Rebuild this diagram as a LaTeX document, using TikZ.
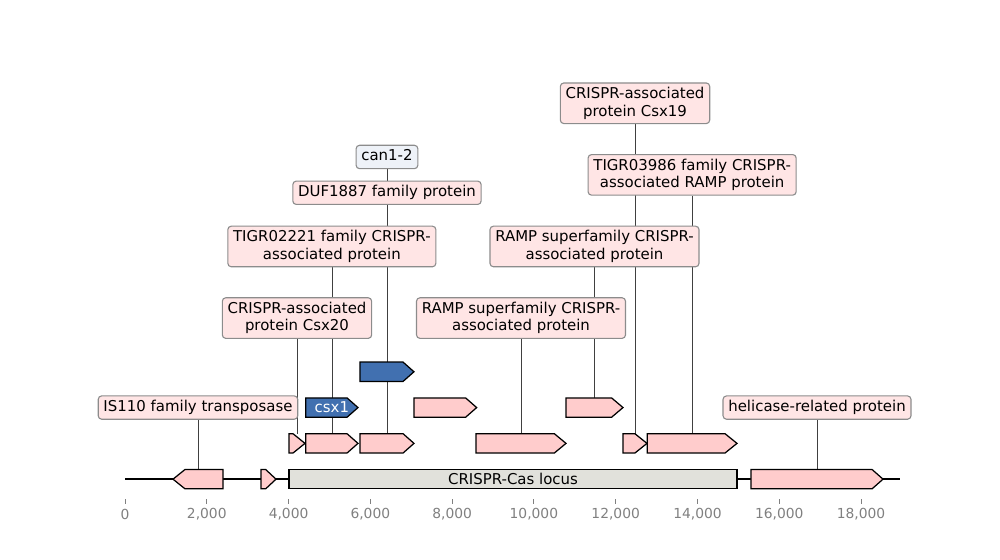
\documentclass[tikz,border=0pt]{standalone}
\usepackage{fontspec}
\setmainfont{DejaVu Sans}
\usetikzlibrary{backgrounds}

\definecolor{genepink}{HTML}{FFCCCC}
\definecolor{tagpink}{HTML}{FFE5E5}
\definecolor{geneblue}{HTML}{4170B0}
\definecolor{tagblue}{HTML}{EEF2F8}
\definecolor{locusgrey}{HTML}{E1E1DB}

\tikzset{
    gene/.style = {line width = 0.9pt, draw = black, fill = genepink},
    bluegene/.style = {gene, fill = geneblue},
    locus/.style = {gene, fill = locusgrey},
    tag/.style = {draw = black!45, line width = 0.8pt, fill = tagpink, rounded corners = 2.5pt,
        inner xsep = 3.8pt, inner ysep = 3.2pt, align = center, font = \fontsize{10.8}{12.5}\selectfont},
    bluetag/.style = {tag, fill = tagblue},
    leader/.style = {draw = black!75, line width = 0.5pt},
    ticklabel/.style = {text = black!50, font = \fontsize{10}{12}\selectfont}
}

\begin{document}
\begin{tikzpicture}[x = 1.0386cm, y = 0.9093cm]
    \useasboundingbox (-3.057, -2.257) rectangle (+21.399, +13.385);

    % Sequence axis
    \draw[line width = 1.2pt] (+0.000, +0.000) coordinate (seqstart) -- (+18.950, +0.000) coordinate (seqend);

    % Ticks and their labels
    \foreach \pos/\txt in {0/0, 2/{2,000}, 4/{4,000}, 6/{6,000}, 8/{8,000}, 10/{10,000}, 12/{12,000}, 14/{14,000}, 16/{16,000}, 18/{18,000}} {
        \draw[black!50, line width = 0.6pt] (\pos, -0.560) -- (\pos, -0.690);
        \node[ticklabel] (tick\pos) at (\pos, -0.972) {\txt};
    }

    % === Labels, from bottom to top ===
    \node[tag] (tnp) at (+1.785, +2.000) {IS110 family transposase};
    \node[tag] (helicase) at (+16.924, +2.000) {helicase-related protein};
    \node[tag] (csxtwenty) at (+4.206, +4.500) {CRISPR-associated\\protein Csx20};
    \node[tag] (ramplow) at (+9.685, +4.500) {RAMP superfamily CRISPR-\\associated protein};
    \node[tag] (tigrshort) at (+5.059, +6.500) {TIGR02221 family CRISPR-\\associated protein};
    \node[tag] (rampup) at (+11.482, +6.500) {RAMP superfamily CRISPR-\\associated protein};
    \node[tag] (duf) at (+6.407, +8.000) {DUF1887 family protein};
    \node[tag] (tigrlong) at (+13.870, +8.500) {TIGR03986 family CRISPR-\\associated RAMP protein};
    \node[bluetag, text depth = 2.5pt] (can) at (+6.407, +9.000) {can1-2};
    \node[tag] (csxnineteen) at (+12.473, +10.500) {CRISPR-associated\\protein Csx19};

    % === Tops of the annotated genes ===
    \coordinate (tnpgene) at (+1.785, +0.270);
    \coordinate (helicasegene) at (+16.924, +0.270);
    \coordinate (csxtwentygene) at (+4.206, +1.270);
    \coordinate (tigrshortgene) at (+5.059, +1.270);
    \coordinate (dufgene) at (+6.407, +1.270);
    \coordinate (ramplowgene) at (+9.685, +1.270);
    \coordinate (csxnineteengene) at (+12.473, +1.270);
    \coordinate (tigrlonggene) at (+13.870, +1.270);
    \coordinate (rampupgene) at (+11.482, +2.270);
    \coordinate (cangene) at (+6.407, +3.270);

    % Leader lines, behind everything
    \begin{pgfonlayer}{background}
        \draw[leader] (tnp.south) -- (tnpgene);
        \draw[leader] (helicase.south) -- (helicasegene);
        \draw[leader] (csxtwenty.south) -- (csxtwentygene);
        \draw[leader] (ramplow.south) -- (ramplowgene);
        \draw[leader] (tigrshort.south) -- (tigrshortgene);
        \draw[leader] (rampup.south) -- (rampupgene);
        \draw[leader] (duf.south) -- (dufgene);
        \draw[leader] (tigrlong.south) -- (tigrlonggene);
        \draw[leader] (can.south) -- (cangene);
        \draw[leader] (csxnineteen.south) -- (csxnineteengene);
    \end{pgfonlayer}

    % === Genes on the axis ===
    % IS110 transposase (reverse strand)
    \filldraw[gene] (+2.397, -0.270) -- (+1.467, -0.270) -- (+1.174, +0.000)
    -- (+1.467, +0.270) -- (+2.397, +0.270) -- cycle;

    % Small gene
    \filldraw[gene] (+3.326, -0.270) -- (+3.440, -0.270) -- (+3.693, +0.000)
    -- (+3.440, +0.270) -- (+3.326, +0.270) -- cycle;

    % CRISPR-Cas locus
    \filldraw[locus] (+4.011, -0.270) rectangle (+14.967, +0.270);
    \node[font = \fontsize{10.8}{12.5}\selectfont] (locuslabel) at (+9.489, +0.000) {CRISPR-Cas locus};

    % Helicase
    \filldraw[gene] (+15.309, -0.270) -- (+18.270, -0.270) -- (+18.538, +0.000)
    -- (+18.270, +0.270) -- (+15.309, +0.270) -- cycle;

    % === First row ===
    \filldraw[gene] (+4.011, +0.730) -- (+4.108, +0.730) -- (+4.402, +1.000)
    -- (+4.108, +1.270) -- (+4.011, +1.270) -- cycle;
    \filldraw[gene] (+4.419, +0.730) -- (+5.430, +0.730) -- (+5.698, +1.000)
    -- (+5.430, +1.270) -- (+4.419, +1.270) -- cycle;
    \filldraw[gene] (+5.747, +0.730) -- (+6.800, +0.730) -- (+7.067, +1.000)
    -- (+6.800, +1.270) -- (+5.747, +1.270) -- cycle;
    \filldraw[gene] (+8.584, +0.730) -- (+10.500, +0.730) -- (+10.785, +1.000)
    -- (+10.500, +1.270) -- (+8.584, +1.270) -- cycle;
    \filldraw[gene] (+12.179, +0.730) -- (+12.470, +0.730) -- (+12.766, +1.000)
    -- (+12.470, +1.270) -- (+12.179, +1.270) -- cycle;
    \filldraw[gene] (+12.773, +0.730) -- (+14.674, +0.730) -- (+14.967, +1.000)
    -- (+14.674, +1.270) -- (+12.773, +1.270) -- cycle;

    % === Second row ===
    % csx1
    \filldraw[bluegene] (+4.419, +1.730) -- (+5.430, +1.730) -- (+5.698, +2.000)
    -- (+5.430, +2.270) -- (+4.419, +2.270) -- cycle;
    \node[text = white, font = \fontsize{10.8}{12.5}\selectfont] (csxone) at (+5.059, +2.000) {csx1};
    \filldraw[gene] (+7.067, +1.730) -- (+8.330, +1.730) -- (+8.600, +2.000)
    -- (+8.330, +2.270) -- (+7.067, +2.270) -- cycle;
    \filldraw[gene] (+10.785, +1.730) -- (+11.900, +1.730) -- (+12.179, +2.000)
    -- (+11.900, +2.270) -- (+10.785, +2.270) -- cycle;

    % === Third row ===
    % can1-2
    \filldraw[bluegene] (+5.747, +2.730) -- (+6.800, +2.730) -- (+7.067, +3.000)
    -- (+6.800, +3.270) -- (+5.747, +3.270) -- cycle;
\end{tikzpicture}
\end{document}
